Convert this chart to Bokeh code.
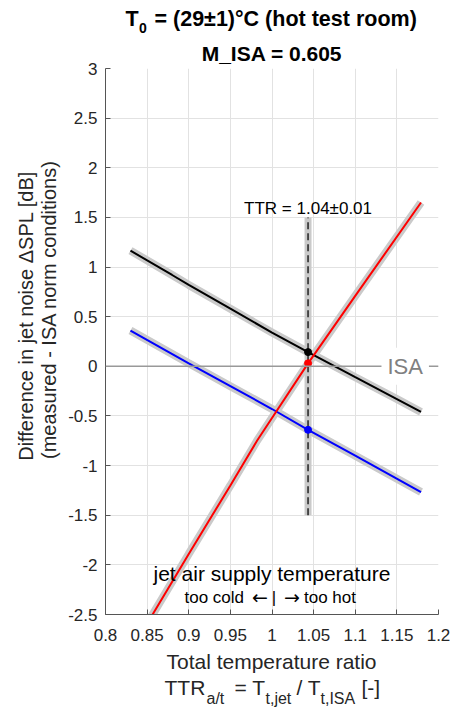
import math
from bokeh.plotting import figure
from bokeh.layouts import column, row
from bokeh.models import Range1d, FixedTicker, Label, Span
from bokeh.embed import file_html
from bokeh.resources import INLINE
from bokeh.core.properties import value

# ---------------- data ----------------
ttr_black = [0.83, 0.88, 0.9, 0.95, 1.0, 1.0433, 1.1, 1.15, 1.179]
dspl_black = [1.165, 0.92, 0.82, 0.58, 0.34, 0.143, -0.11, -0.33, -0.46]

ttr_blue = [0.83, 0.9, 0.95, 1.0, 1.0433, 1.1, 1.179]
dspl_blue = [0.36, 0.03, -0.20, -0.43, -0.64, -0.90, -1.267]

ttr_red = [0.83, 0.858, 0.9, 0.95, 0.982, 1.0, 1.0433, 1.1, 1.179]
dspl_red = [-2.88, -2.48, -1.89, -1.20, -0.75, -0.52, 0.03, 0.71, 1.65]

ttr_op = 1.0433
op_values = [0.143, 0.03, -0.64]
op_colors = ["black", "red", "blue"]
band_y = [-1.5, 1.5]

x_ticks = [0.8, 0.85, 0.9, 0.95, 1.0, 1.05, 1.1, 1.15, 1.2]
y_ticks = [-2.5, -2.0, -1.5, -1.0, -0.5, 0.0, 0.5, 1.0, 1.5, 2.0, 2.5, 3.0]

# ---------------- layout (page pixels) ----------------
W, H = 450, 710
TOP_H = 36          # title strip (first title line)
BOT_H = 63          # x-label strip
MID_H = H - TOP_H - BOT_H
YLAB_W = 65         # y-label strip
MAIN_W = W - YLAB_W
FONT = "Liberation Sans"
TXT = "#262626"
BL = 0.3            # baseline correction (fraction of font size)

X0, X1 = 0.8, 1.2
Y0, Y1 = -2.5, 3.0

# ---------------- main plot ----------------
p = figure(width=MAIN_W, height=MID_H, output_backend="svg", toolbar_location=None,
           x_range=Range1d(X0, X1), y_range=Range1d(Y0, Y1),
           title="M_ISA = 0.605",
           min_border_left=40, min_border_right=12,
           min_border_top=66 - TOP_H, min_border_bottom=33)
p.title.align = "center"
p.title.text_font = FONT
p.title.text_font_size = "21px"
p.title.text_font_style = "bold"
p.title.text_color = "black"
p.title.standoff = 7
p.outline_line_color = None
p.background_fill_color = "white"
p.border_fill_color = "white"

for ax, ticks in ((p.xaxis[0], x_ticks), (p.yaxis[0], y_ticks)):
    ax.ticker = FixedTicker(ticks=ticks)
    ax.major_label_overrides = {t: f"{t:g}" for t in ticks}
    ax.major_tick_in = 5
    ax.major_tick_out = 0
    ax.minor_tick_in = 0
    ax.minor_tick_out = 0
    ax.axis_line_color = "#555555"
    ax.major_tick_line_color = "#555555"
    ax.major_label_text_font = FONT
    ax.major_label_text_font_size = "17px"
    ax.major_label_text_color = TXT
p.xaxis.major_label_standoff = 14
p.yaxis.major_label_standoff = 8

p.xgrid.ticker = FixedTicker(ticks=x_ticks)
p.ygrid.ticker = FixedTicker(ticks=y_ticks)
p.grid.grid_line_color = "#e2e2e2"
p.grid.grid_line_width = 1

# ISA reference line
p.add_layout(Span(location=0, dimension="width", line_color="#999999", line_width=1.5))

HALO = "#cacaca"
for xs, ys in ((ttr_black, dspl_black), (ttr_blue, dspl_blue), (ttr_red, dspl_red)):
    p.line(xs, ys, line_color=HALO, line_width=8)

# operating point band
p.line([ttr_op, ttr_op], band_y, line_color=HALO, line_width=7)
p.line([ttr_op, ttr_op], band_y, line_color="#222222", line_width=1.5, line_dash="7 4")

p.line(ttr_black, dspl_black, line_color="black", line_width=2)
p.line(ttr_blue, dspl_blue, line_color="blue", line_width=2)
p.line(ttr_red, dspl_red, line_color="red", line_width=2)

p.scatter([ttr_op] * 3, op_values, color=op_colors, size=7)


def lab(text, x, y, size, color="black", align="left", baseline="alphabetic",
        font=FONT, xoff=0, **kw):
    yoff = BL * size if baseline == "alphabetic" else 0
    p.add_layout(Label(text=text, x=x, y=y, x_offset=xoff, y_offset=yoff, text_font=font,
                       text_font_size=f"{size}px", text_color=color,
                       text_align=align, text_baseline=baseline, **kw))


lab("ISA", 1.16, 0.0, 22, color="#808080", align="center", baseline="middle",
    background_fill_color="white", padding=6)
lab("TTR = 1.04\u00b10.01", ttr_op, 1.54, 17, align="center")
lab("jet air supply temperature", 1.0, -2.15, 21, align="center")
# "too cold <- | -> too hot", pieces offset in pixels from TTR = 1
lab("too cold", 1.0, -2.38, 17, align="right", xoff=-28)
lab("\u2190", 1.0, -2.38, 19, align="center", xoff=-12, font="DejaVu Sans")
lab("|", 1.0, -2.38, 17, align="center", xoff=2)
lab("\u2192", 1.0, -2.38, 19, align="center", xoff=20, font="DejaVu Sans")
lab("too hot", 1.0, -2.38, 17, align="left", xoff=32)


# ---------------- text strips ----------------
def strip(w, h):
    f = figure(width=w, height=h, output_backend="svg", toolbar_location=None,
               x_range=Range1d(0, w), y_range=Range1d(0, h),
               x_axis_type=None, y_axis_type=None, min_border=0)
    f.outline_line_color = None
    f.background_fill_color = "white"
    f.border_fill_color = "white"
    return f


def put(f, top, text, px, py, size, color="black", align="left", bold=False, rotated=False):
    # px, py are page pixel positions of the text baseline
    h = f.height
    if rotated:
        x, y, ang = px - BL * size, h - (py - top), math.pi / 2
    else:
        x, y, ang = px, h - (py - top) + BL * size, 0.0
    f.text(x=[x], y=[y], text=[text], text_font=value(FONT),
           text_font_size=f"{size}px", text_color=color, text_align=align,
           text_baseline="alphabetic", text_font_style="bold" if bold else "normal",
           angle=ang)


# title strip (first line with subscript)
t = strip(W, TOP_H)
put(t, 0, "T", 125, 25, 21.5, bold=True)
put(t, 0, "0", 138.5, 32, 14, bold=True)
put(t, 0, "= (29\u00b11)\u00b0C (hot test room)", 154, 25, 21.5, bold=True)

# y-label strip (rotated, reading upwards, anchored at their start)
yl = strip(YLAB_W, MID_H)
put(yl, TOP_H, "Difference in jet noise \u0394SPL [dB]", 31, 475, 20, color=TXT,
    align="left", rotated=True)
put(yl, TOP_H, "(measured - ISA norm conditions)", 54, 473, 20, color=TXT,
    align="left", rotated=True)

# x-label strip
b = strip(W, BOT_H)
B0 = TOP_H + MID_H
put(b, B0, "Total temperature ratio", 271, 667, 21, color=TXT, align="center")
put(b, B0, "TTR", 164, 693, 21, color=TXT)
put(b, B0, "a/t", 206, 703, 16, color=TXT)
put(b, B0, "= T", 234, 693, 21, color=TXT)
put(b, B0, "t,jet", 265, 703, 16, color=TXT)
put(b, B0, "/ T", 296, 693, 21, color=TXT)
put(b, B0, "t,ISA", 320, 703, 16, color=TXT)
put(b, B0, "[-]", 361, 693, 21, color=TXT)

layout = column(t, row(yl, p), b)
open("out.html", "w").write(file_html(layout, INLINE))
